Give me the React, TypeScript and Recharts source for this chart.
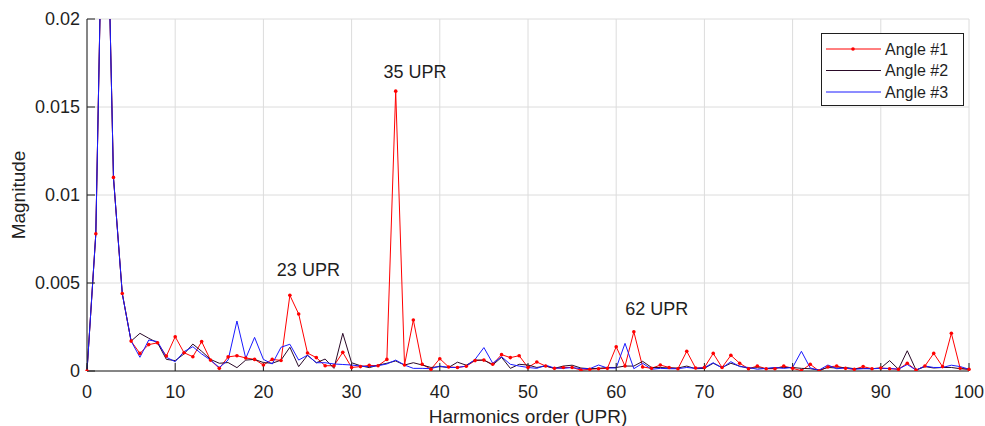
import { LineChart, Line, XAxis, YAxis, CartesianGrid, Legend, ReferenceDot } from 'recharts'

const FONT = '"Liberation Sans", Arial, Helvetica, sans-serif'
const INK = '#1f1f1f'

// magnitudes per harmonic order 0..100
const angle1 = [
  0, 0.0078, 0.034, 0.011, 0.0044, 0.0017, 0.001, 0.0015, 0.0016, 0.00085,
  0.00195, 0.00104, 0.00081, 0.00167, 0.00062, 0.00015, 0.0008, 0.00087, 0.00074, 0.00066,
  0.00034, 0.00066, 0.0006, 0.0043, 0.00324, 0.00102, 0.00076, 0.0003, 0.0003, 0.00106,
  0.0002, 0.00025, 0.00032, 0.0003, 0.00066, 0.0159, 0.00034, 0.0029, 0.00038, 0.0001,
  0.0007, 0.00023, 0.0002, 0.00027, 0.00059, 0.00062, 0.00038, 0.00093, 0.00076, 0.00087,
  0.0002, 0.00051, 0.00028, 0.00015, 0.0002, 0.0002, 0.00005, 0.0001, 0.00013, 0.00015,
  0.00138, 0.00028, 0.00223, 0.00023, 0.00015, 0.00034, 0.0002, 0.00013, 0.00112, 0.00017,
  0.0002, 0.001, 0.0002, 0.00089, 0.00044, 0.00013, 0.00028, 0.00013, 0.00013, 0.00028,
  0.00015, 0.00002, 0.00038, 0, 0.00023, 0.00028, 0.00015, 0.0001, 0.00025, 0.00013,
  0.00017, 0.00013, 0.0001, 0.00044, 0.00005, 0.00028, 0.001, 0.00025, 0.00214, 0.00015,
  0.0001,
]
const angle2 = [
  0, 0.0078, 0.034, 0.011, 0.0044, 0.0017, 0.00214, 0.00186, 0.0016, 0.00066,
  0.00059, 0.00097, 0.00153, 0.00112, 0.00066, 0.00044, 0.00048, 0.00019, 0.00062, 0.00066,
  0.00048, 0.00044, 0.00062, 0.00135, 0.00025, 0.00089, 0.00047, 0.00068, 0.00015, 0.00214,
  0.00047, 0.0003, 0.00019, 0.00033, 0.00044, 0.00057, 0.00034, 0.00047, 0.00034, 0.0002,
  0.00025, 0.0002, 0.0005, 0.00033, 0.00062, 0.00062, 0.00034, 0.00078, 0.00015, 0.00038,
  0.00034, 0.0002, 0.00028, 0.00015, 0.00028, 0.00033, 0.00017, 0.00013, 0.00015, 0.0002,
  0.0002, 0.00028, 0.00028, 0.00055, 0.0002, 0.0002, 0.00017, 0.00017, 0.00028, 0.00013,
  0.00015, 0.00044, 0.0002, 0.00044, 0.00028, 0.00015, 0.00019, 0.00013, 0.00017, 0.0002,
  0.0002, 0.00015, 0.00013, 0.00005, 0.0002, 0.00017, 0.0002, 0.00013, 0.00015, 0.00013,
  0.00017, 0.00059, 0.0001, 0.00115, 0.00005, 0.00025, 0.00017, 0.0002, 0.0002, 0.00013,
  0.0001,
]
const angle3 = [
  0, 0.0078, 0.034, 0.011, 0.0044, 0.0017, 0.00078, 0.00176, 0.00167, 0.00078,
  0.00053, 0.0011, 0.00138, 0.00097, 0.00062, 0.0002, 0.00062, 0.00284, 0.00072, 0.00191,
  0.00066, 0.0004, 0.00135, 0.00152, 0.00062, 0.0009, 0.00047, 0.00047, 0.0004, 0.00037,
  0.00034, 0.00028, 0.00025, 0.0003, 0.0004, 0.00062, 0.00034, 0.00015, 0.00015, 0.00013,
  0.00028, 0.0002, 0.0002, 0.00028, 0.00066, 0.00133, 0.00044, 0.00081, 0.00038, 0.00028,
  0.0002, 0.00015, 0.00033, 0.00017, 0.00015, 0.0002, 0.00013, 0.00013, 0.00034, 0.00017,
  0.00017, 0.00157, 0.00013, 0.00044, 0.0001, 0.00015, 0.00013, 0.00013, 0.0002, 0.00015,
  0.00019, 0.00047, 0.00017, 0.00053, 0.00025, 0.0002, 0.0001, 0.00015, 0.0002, 0.00015,
  0.0002, 0.00112, 0.00017, 0.00005, 0.00034, 0.00013, 0.00017, 0.0001, 0.00013, 0.00013,
  0.00015, 0.00015, 0.0001, 0.00037, 0.00005, 0.00028, 0.0002, 0.0002, 0.00033, 0.00025,
  0.0001,
]

const xTicks = [0, 10, 20, 30, 40, 50, 60, 70, 80, 90, 100]
const yTicks = [0, 0.005, 0.01, 0.015, 0.02]

const notes = [
  { n: 37.2, v: 0.017, text: '35 UPR' },
  { n: 25.1, v: 0.00574, text: '23 UPR' },
  { n: 64.6, v: 0.00352, text: '62 UPR' },
]

const series = [
  { key: 'a1', name: 'Angle #1', color: '#ff0000', dot: true },
  { key: 'a2', name: 'Angle #2', color: '#2a0a28', dot: false },
  { key: 'a3', name: 'Angle #3', color: '#1a1aff', dot: false },
]

const data = angle1.map((v, i) => ({ n: i, a1: v, a2: angle2[i], a3: angle3[i] }))

function LegendBox() {
  return (
    <svg width={143} height={73} style={{ display: 'block' }}>
      <rect x={0.5} y={0.5} width={142} height={72} fill="#fff" stroke={INK} />
      {series.map((s, i) => {
        const y = 16 + i * 21.5
        return (
          <g key={s.key}>
            <line x1={5} x2={60} y1={y} y2={y} stroke={s.color} strokeWidth={1} />
            {s.dot && <circle cx={32} cy={y} r={1.8} fill={s.color} />}
            <text x={64} y={y} dy="0.35em" fontSize={16} fill={INK} fontFamily={FONT}>{s.name}</text>
          </g>
        )
      })}
    </svg>
  )
}

export default function App() {
  const axisStroke = { stroke: INK }
  return (
    <div style={{ width: 985, height: 426, background: '#fff', fontFamily: FONT }}>
      <style>{'body{margin:0}'}</style>
      <LineChart width={985} height={426} data={data} margin={{ top: 19, right: 16, bottom: 0, left: 0 }}>
        <CartesianGrid stroke="#dcdcdc" />
        <XAxis
          dataKey="n" type="number" domain={[0, 100]} ticks={xTicks} interval={0}
          height={55} tickSize={-8} tickMargin={22}
          axisLine={axisStroke} tickLine={axisStroke}
          tick={{ fill: INK, fontSize: 18, fontFamily: FONT }}
          label={{
            content: ({ viewBox }: any) => (
              <text x={viewBox.x + viewBox.width / 2} y={423} textAnchor="middle" fontSize={19} fill={INK} fontFamily={FONT}>
                Harmonics order (UPR)
              </text>
            ),
          }}
        />
        <XAxis
          xAxisId="top" orientation="top" type="number" domain={[0, 100]} ticks={xTicks} interval={0}
          height={0} tickSize={-8} tickFormatter={() => ''} axisLine={axisStroke} tickLine={axisStroke}
        />
        <YAxis
          type="number" domain={[0, 0.02]} ticks={yTicks} interval={0} allowDataOverflow
          width={87} tickSize={-8} tickMargin={15}
          axisLine={axisStroke} tickLine={axisStroke}
          tick={{ fill: INK, fontSize: 18, fontFamily: FONT }}
          tickFormatter={(v: number) => String(v)}
          label={{
            content: ({ viewBox }: any) => {
              const cy = viewBox.y + viewBox.height / 2
              return (
                <text x={25} y={cy} textAnchor="middle" transform={`rotate(-90, 25, ${cy})`} fontSize={19} fill={INK} fontFamily={FONT}>
                  Magnitude
                </text>
              )
            },
          }}
        />
        <YAxis
          yAxisId="right" orientation="right" type="number" domain={[0, 0.02]} ticks={yTicks} interval={0}
          width={0} tickSize={-8} tickFormatter={() => ''} axisLine={axisStroke} tickLine={axisStroke}
        />
        {series.map((s) => (
          <Line
            key={s.key} type="linear" dataKey={s.key} name={s.name} stroke={s.color} strokeWidth={1}
            dot={s.dot ? { r: 1.8, fill: s.color, stroke: 'none' } : false}
            activeDot={false} isAnimationActive={false}
          />
        ))}
        {notes.map((a) => (
          <ReferenceDot
            key={a.text} x={a.n} y={a.v} r={0} stroke="none" fill="none"
            label={{ value: a.text, position: 'center', fill: INK, fontSize: 18, fontFamily: FONT }}
          />
        ))}
        <Legend
          layout="horizontal" verticalAlign="middle" align="center"
          wrapperStyle={{ left: 821, top: 33, width: 143, height: 73 }}
          content={() => <LegendBox />}
        />
      </LineChart>
    </div>
  )
}
